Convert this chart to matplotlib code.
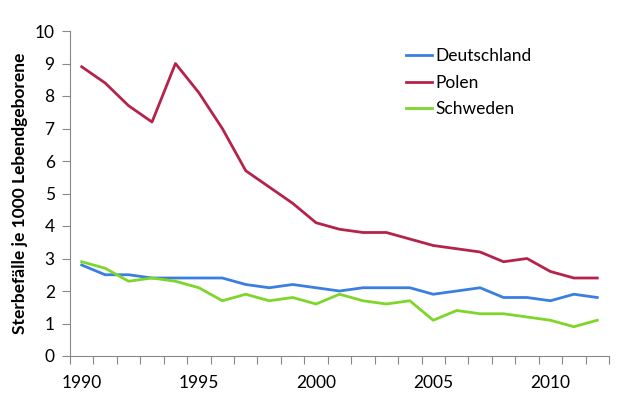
import numpy as np
import matplotlib
matplotlib.use("Agg")
import matplotlib.pyplot as plt

plt.rcParams['font.family'] = ['Lato', 'DejaVu Sans']

years = list(range(1990, 2013))
deutschland = [2.8, 2.5, 2.5, 2.4, 2.4, 2.4, 2.4, 2.2, 2.1, 2.2, 2.1, 2.0,
               2.1, 2.1, 2.1, 1.9, 2.0, 2.1, 1.8, 1.8, 1.7, 1.9, 1.8]
polen = [8.9, 8.4, 7.7, 7.2, 9.0, 8.1, 7.0, 5.7, 5.2, 4.7, 4.1, 3.9,
         3.8, 3.8, 3.6, 3.4, 3.3, 3.2, 2.9, 3.0, 2.6, 2.4, 2.4]
schweden = [2.9, 2.7, 2.3, 2.4, 2.3, 2.1, 1.7, 1.9, 1.7, 1.8, 1.6, 1.9,
            1.7, 1.6, 1.7, 1.1, 1.4, 1.3, 1.3, 1.2, 1.1, 0.9, 1.1]
label_years = [1990, 1995, 2000, 2005, 2010]

fig = plt.figure(figsize=(6.2, 3.98), dpi=100)
ax = fig.add_axes([70/620, 1 - 356/398, 539/620, 325/398])

x = np.arange(len(years))
ax.plot(x, deutschland, color='#3a7fe0', lw=2, label='Deutschland')
ax.plot(x, polen, color='#b5234a', lw=2, label='Polen')
ax.plot(x, schweden, color='#7ed62a', lw=2, label='Schweden')

ax.set_xlim(-0.5, len(years) - 0.5)
ax.set_ylim(0, 10)
ax.set_yticks(range(0, 11))
ax.set_xticks(np.arange(len(years) + 1) - 0.5)
ax.set_xticklabels([])
ax.set_xticks([years.index(y) for y in label_years], minor=True)
ax.set_xticklabels([str(y) for y in label_years], minor=True)
ax.tick_params(axis='x', which='minor', length=0, pad=14, labelsize=12.5)
ax.tick_params(axis='x', which='major', length=6, color='#888888')
ax.tick_params(axis='y', length=6, color='#888888', labelsize=12.5, pad=5)

for s in ['top', 'right']:
    ax.spines[s].set_visible(False)
for s in ['left', 'bottom']:
    ax.spines[s].set_color('#888888')

ax.set_ylabel('Sterbefälle je 1000 Lebendgeborene', fontsize=12.5, fontweight='bold', labelpad=5)

ax.legend(loc='upper left', bbox_to_anchor=(0.595, 0.995), frameon=False, fontsize=12.5,
          handlelength=1.5, handletextpad=0.2, labelspacing=0.6)

fig.savefig('out.png', dpi=100)
